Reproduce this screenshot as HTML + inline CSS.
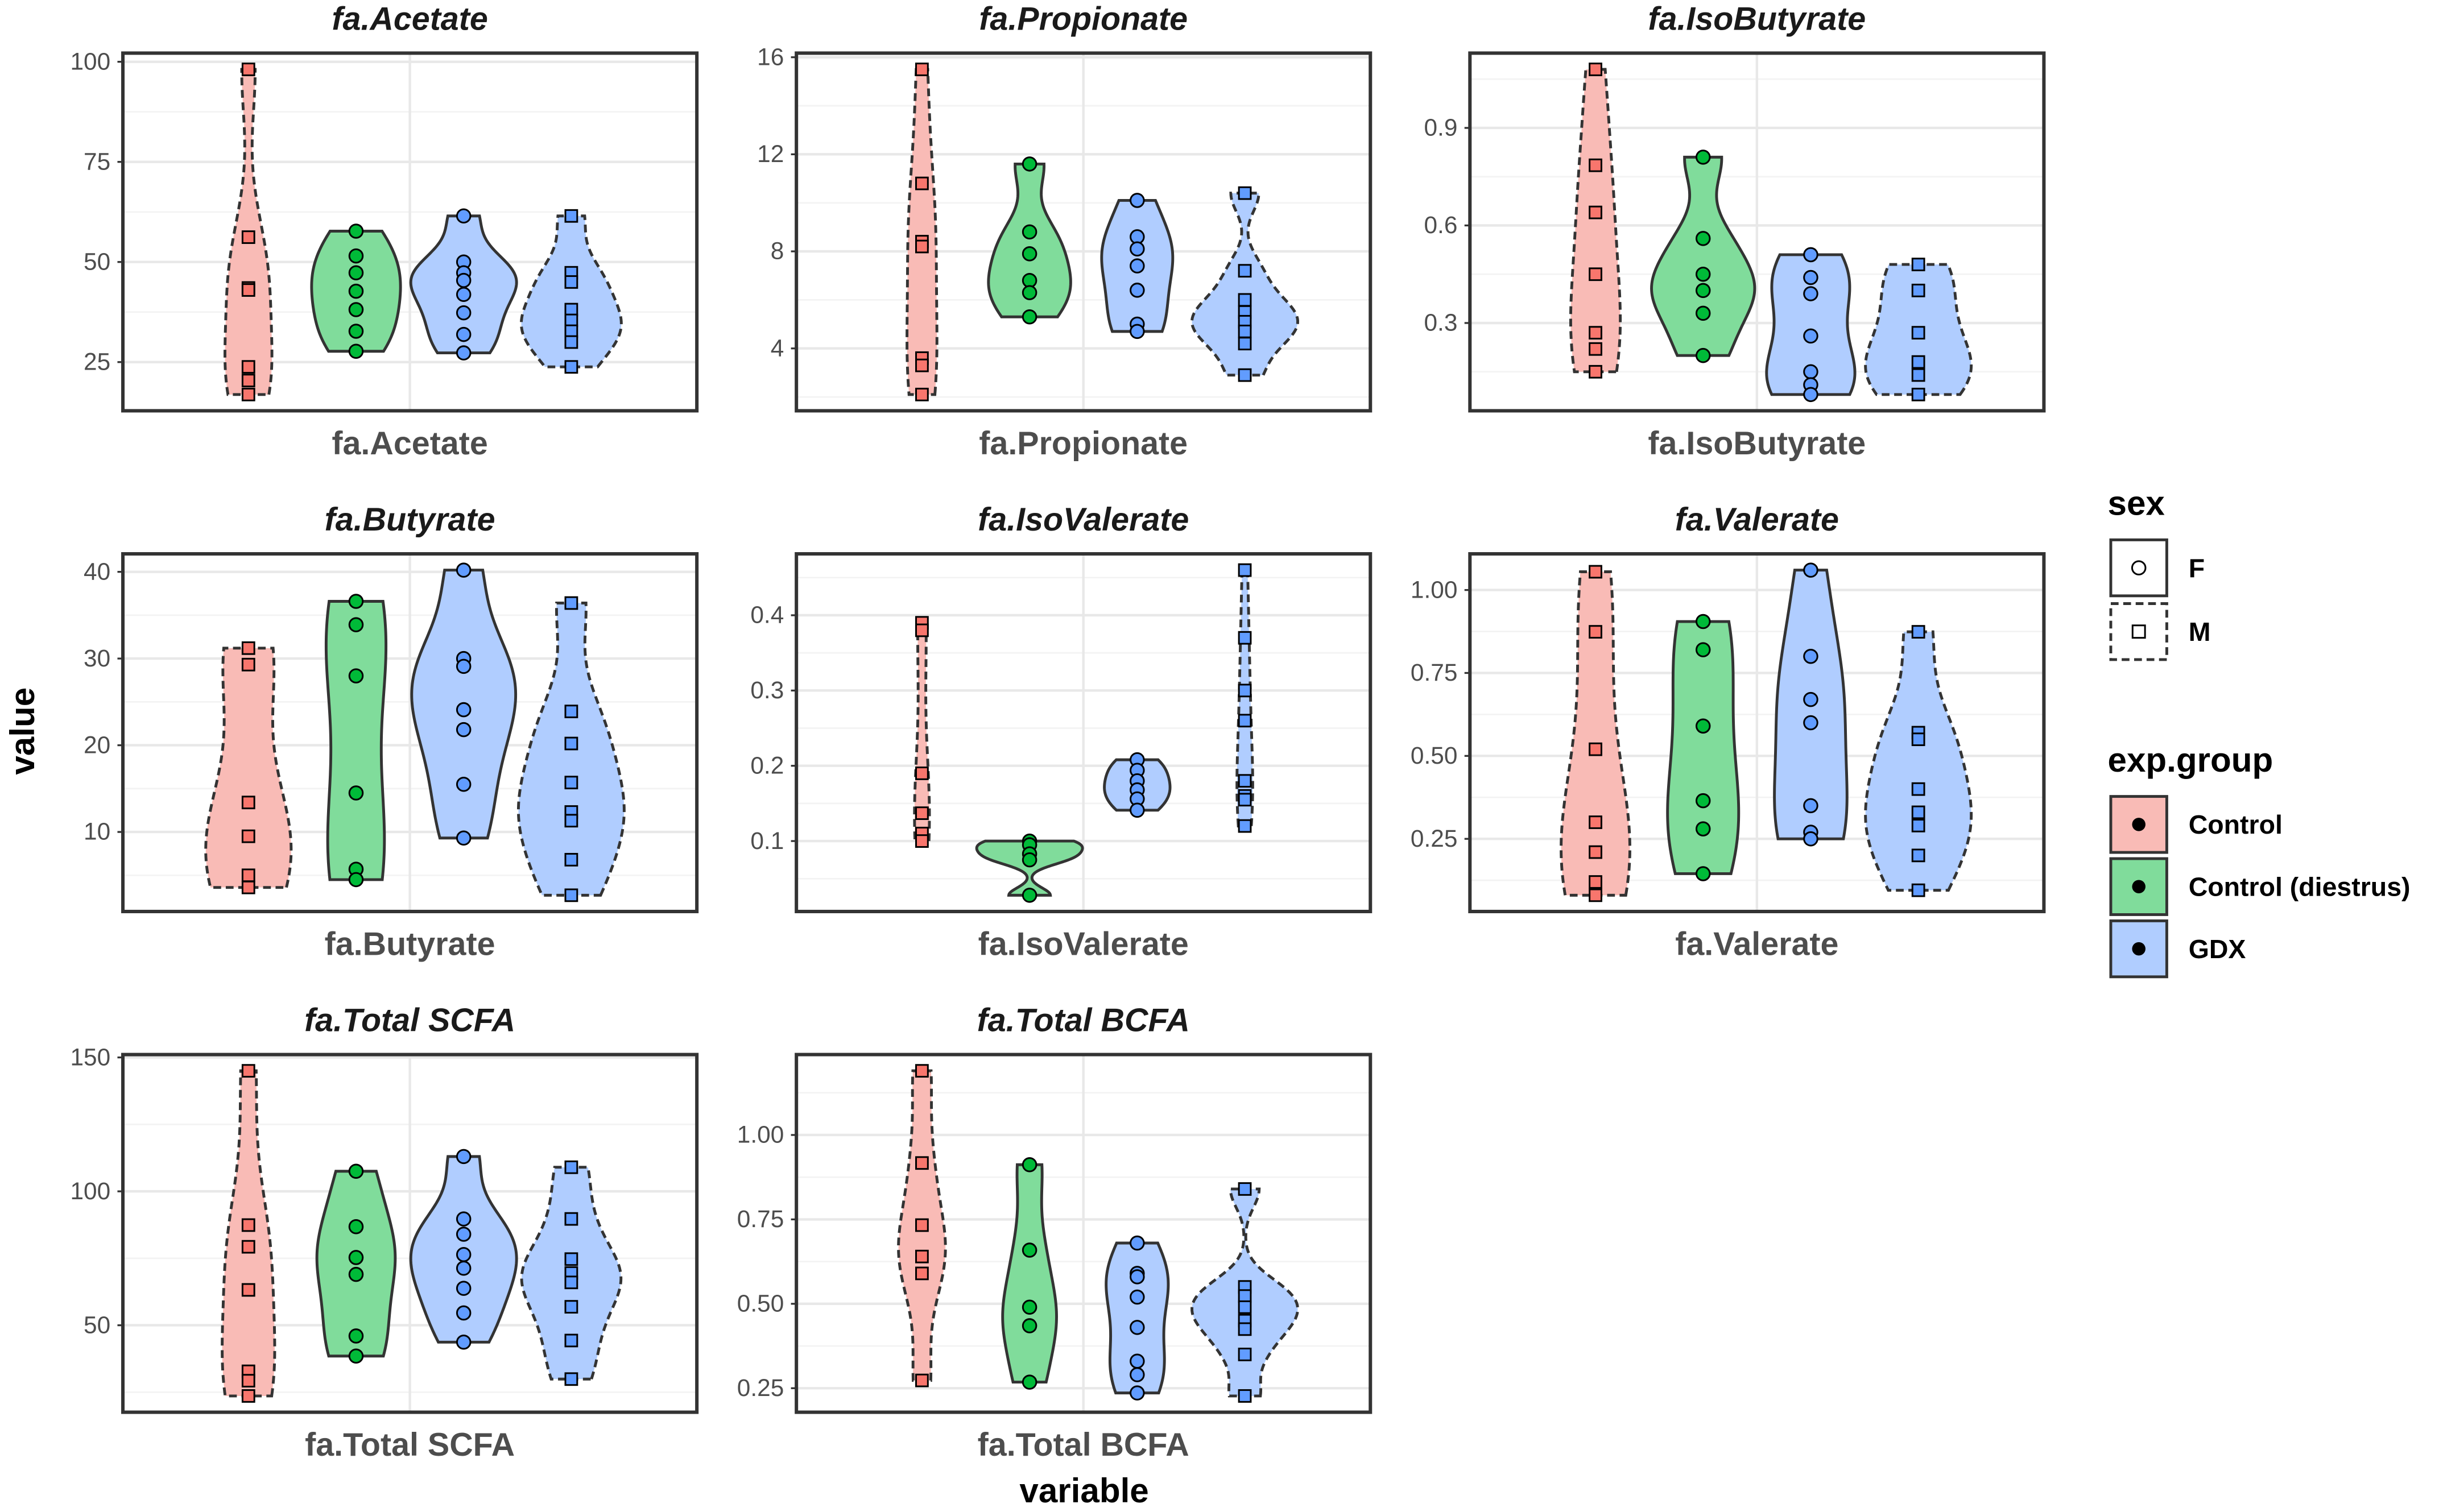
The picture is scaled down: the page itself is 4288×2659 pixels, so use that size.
<!DOCTYPE html>
<html><head><meta charset="utf-8">
<style>
html,body{margin:0;padding:0;background:#fff;}
svg{display:block;}
text{font-family:"Liberation Sans",Arial,sans-serif;}
</style></head>
<body>
<svg id="chart" width="4288" height="2659" viewBox="0 0 1568 972" xmlns="http://www.w3.org/2000/svg">
</svg>
<script>
// ---- data (groups: Control M, Control(diestrus) F, GDX F, GDX M) ----
const panelTitles = ["fa.Acetate","fa.Propionate","fa.IsoButyrate","fa.Butyrate","fa.IsoValerate","fa.Valerate","fa.Total SCFA","fa.Total BCFA"];
const groupNames = ["Control","Control (diestrus)","GDX","GDX"];
const groupSex = ["M","F","F","M"];
const acetate = [[98.1,56.2,43.5,43.0,23.8,20.4,16.9],[57.7,51.5,47.3,42.7,38.1,32.7,27.7],[61.5,50,47.3,45.4,41.9,37.3,31.9,27.3],[61.5,47.3,45,38.1,35.4,32.7,30,23.8]];
const propionate = [[15.5,10.8,8.4,8.2,3.6,3.3,2.1],[11.6,8.8,7.9,6.8,6.3,5.3],[10.1,8.6,8.1,7.4,6.4,5.0,4.7],[10.4,7.2,6.0,5.5,5.1,4.7,4.2,2.9]];
const isoButyrate = [[1.08,0.785,0.64,0.45,0.27,0.22,0.15],[0.81,0.56,0.45,0.40,0.33,0.20],[0.51,0.44,0.39,0.26,0.15,0.11,0.08],[0.48,0.40,0.27,0.18,0.14,0.08]];
const butyrate = [[31.2,29.3,13.4,9.5,5.0,3.6],[36.6,33.9,28,14.5,5.7,4.5],[40.2,30,29.1,24.1,21.8,15.5,9.3],[36.4,23.9,20.2,15.7,12.3,11.3,6.8,2.7]];
const isoValerate = [[0.39,0.38,0.19,0.137,0.11,0.10],[0.10,0.095,0.083,0.075,0.028],[0.208,0.194,0.18,0.168,0.156,0.141],[0.46,0.37,0.30,0.26,0.18,0.16,0.155,0.12]];
const valerate = [[1.055,0.874,0.52,0.30,0.21,0.12,0.08],[0.905,0.82,0.59,0.365,0.28,0.145],[1.06,0.80,0.67,0.60,0.35,0.27,0.25],[0.874,0.57,0.55,0.40,0.33,0.29,0.20,0.095]];
const totalSCFA = [[145,87.4,79.3,63.2,32.8,29.3,23.6],[107.5,86.8,75.3,69,46,38.5],[113,89.7,84,76.4,71.3,63.8,54.6,43.7],[109,89.7,74.7,69.5,66,56.9,44.3,29.9]];
const totalBCFA = [[1.19,0.917,0.733,0.64,0.59,0.273],[0.912,0.659,0.49,0.435,0.268],[0.68,0.59,0.58,0.52,0.43,0.33,0.29,0.236],[0.84,0.55,0.523,0.49,0.45,0.425,0.35,0.227]];
const ticks0 = [25,50,75,100];
const ticks1 = [4,8,12,16];
const ticks2 = [0.3,0.6,0.9];
const ticks3 = [10,20,30,40];
const ticks4 = [0.1,0.2,0.3,0.4];
const ticks5 = [0.25,0.5,0.75,1.0];
const ticks6 = [50,100,150];
const ticks7 = [0.25,0.5,0.75,1.0];
const tickLabels0 = ["25","50","75","100"];
const tickLabels1 = ["4","8","12","16"];
const tickLabels2 = ["0.3","0.6","0.9"];
const tickLabels3 = ["10","20","30","40"];
const tickLabels4 = ["0.1","0.2","0.3","0.4"];
const tickLabels5 = ["0.25","0.50","0.75","1.00"];
const tickLabels6 = ["50","100","150"];
const tickLabels7 = ["0.25","0.50","0.75","1.00"];

const allData=[acetate,propionate,isoButyrate,butyrate,isoValerate,valerate,totalSCFA,totalBCFA];
const allTicks=[ticks0,ticks1,ticks2,ticks3,ticks4,ticks5,ticks6,ticks7];
const allTickLabels=[tickLabels0,tickLabels1,tickLabels2,tickLabels3,tickLabels4,tickLabels5,tickLabels6,tickLabels7];
const fills=["#F9BBB6","#80DC9B","#B0CDFF"];
const pcols=["#F8766D","#00BA38","#619CFF"];
const NS="http://www.w3.org/2000/svg";
const svg=document.getElementById('chart');
function mk(tag,attrs,parent){const e=document.createElementNS(NS,tag);for(const k in attrs)e.setAttribute(k,attrs[k]);(parent||svg).appendChild(e);return e;}
function colIdx(g){return g===0?0:(g===1?1:2);}
function sd(a){const m=a.reduce((s,v)=>s+v,0)/a.length;return Math.sqrt(a.reduce((s,v)=>s+(v-m)*(v-m),0)/(a.length-1));}
function quant(a,p){const s=[...a].sort((x,y)=>x-y);const h=(s.length-1)*p;const lo=Math.floor(h);return s[lo]+(h-lo)*((s[lo+1]??s[lo])-s[lo]);}
function bw(a){const iqr=(quant(a,0.75)-quant(a,0.25))/1.34;let lo=Math.min(sd(a),iqr>0?iqr:sd(a));return 0.9*lo*Math.pow(a.length,-0.2);}
function kde(a,h,y){let s=0;for(const v of a){const z=(y-v)/h;s+=Math.exp(-0.5*z*z);}return s/(a.length*h*Math.sqrt(2*Math.PI));}

const colX=[79,512,945], rowY=[34,356,678], PW=369, PH=230;
allData.forEach((data,p)=>{
  const px=colX[p%3], py=rowY[Math.floor(p/3)];
  const g=mk('g',{});
  
  
  let mn=Infinity,mx=-Infinity;data.forEach(a=>a.forEach(v=>{mn=Math.min(mn,v);mx=Math.max(mx,v);}));
  const r=mx-mn; const d0=mn-0.05*r, d1=mx+0.05*r;
  const ys=v=>py+PH-(v-d0)/(d1-d0)*PH;
  const xs=i=>px+PW/2+(i-1.5)*PW*0.9/1.2/4;
  mk('rect',{x:px,y:py,width:PW,height:PH,fill:'#fff'},g);
  // minor grid
  const t=allTicks[p]; const step=t[1]-t[0];
  for(let v=t[0]-step/2; v<=d1; v+=step){ if(v>=d0) mk('line',{x1:px,x2:px+PW,y1:ys(v),y2:ys(v),stroke:'#f3f3f3','stroke-width':1},g); }
  t.forEach((v,i)=>{
    const gl=mk('line',{x1:px,x2:px+PW,y1:ys(v),y2:ys(v),stroke:'#e8e8e8','stroke-width':1.6},g);
    
    
    mk('line',{x1:px-3.5,x2:px,y1:ys(v),y2:ys(v),stroke:'#333','stroke-width':1.2},g);
    const tl=mk('text',{x:px-8,y:ys(v)+5,'text-anchor':'end','font-size':15.5,fill:'#4d4d4d'},g);
    tl.textContent=allTickLabels[p][i];
    
    
  });
  mk('line',{x1:px+PW/2,x2:px+PW/2,y1:py,y2:py+PH,stroke:'#e8e8e8','stroke-width':1.6},g);
  // violins
  const dens=data.map(a=>{const h=bw(a);const lo=Math.min(...a),hi=Math.max(...a);const pts=[];for(let k=0;k<=80;k++){const y=lo+(hi-lo)*k/80;pts.push([y,kde(a,h,y)]);}return pts;});
  let maxD=0;dens.forEach(ps=>ps.forEach(q=>maxD=Math.max(maxD,q[1])));
  const HW=34;
  data.forEach((a,i)=>{
    const cx=xs(i);const ps=dens[i];
    let dstr='';ps.forEach((q,k)=>{dstr+=(k?'L':'M')+(cx+q[1]/maxD*HW).toFixed(2)+','+ys(q[0]).toFixed(2);});
    for(let k=ps.length-1;k>=0;k--){const q=ps[k];dstr+='L'+(cx-q[1]/maxD*HW).toFixed(2)+','+ys(q[0]).toFixed(2);}
    dstr+='Z';
    const v=mk('path',{d:dstr,fill:fills[colIdx(i)],stroke:'#333','stroke-width':1.8,'stroke-dasharray':groupSex[i]==='M'?'5,3':'none'},g);
    
    
    a.forEach(val=>{
      let m;
      if(groupSex[i]==='M') m=mk('rect',{x:cx-3.8,y:ys(val)-3.8,width:7.6,height:7.6,fill:pcols[colIdx(i)],stroke:'#000','stroke-width':1.1},g);
      else m=mk('circle',{cx:cx,cy:ys(val),r:4.3,fill:pcols[colIdx(i)],stroke:'#000','stroke-width':1.1},g);
      
      
    });
  });
  mk('rect',{x:px,y:py,width:PW,height:PH,fill:'none',stroke:'#333','stroke-width':2.2},g);
  const tt=mk('text',{x:px+PW/2,y:py-15,'text-anchor':'middle','font-size':21,'font-weight':'bold','font-style':'italic',fill:'#1a1a1a'},g);
  tt.textContent=panelTitles[p];
  
  
  const xl=mk('text',{x:px+PW/2,y:py+PH+28,'text-anchor':'middle','font-size':21,'font-weight':'bold',fill:'#4d4d4d'},g);
  xl.textContent=panelTitles[p];
  
  
});
</script>
<script>
(function(){
const NS="http://www.w3.org/2000/svg";const svg=document.getElementById('chart');
function mk(tag,attrs){const e=document.createElementNS(NS,tag);for(const k in attrs)e.setAttribute(k,attrs[k]);svg.appendChild(e);return e;}
let e=mk('text',{x:0,y:0,transform:'translate(22,470) rotate(-90)','text-anchor':'middle','font-size':22,'font-weight':'bold',fill:'#000'});e.textContent='value';


e=mk('text',{x:697,y:966,'text-anchor':'middle','font-size':22,'font-weight':'bold',fill:'#000'});e.textContent='variable';


e=mk('text',{x:1355,y:331,'font-size':22,'font-weight':'bold',fill:'#000'});e.textContent='sex';


[['F',347,false],['M',388,true]].forEach(s=>{
  const b=mk('rect',{x:1357,y:s[1],width:36,height:36,fill:'#fff',stroke:'#333','stroke-width':1.8,'stroke-dasharray':s[2]?'5,3':'none'});
  
  
  if(s[2]) mk('rect',{x:1371,y:s[1]+14,width:8,height:8,fill:'#fff',stroke:'#000','stroke-width':1.1});
  else mk('circle',{cx:1375,cy:s[1]+18,r:4.3,fill:'#fff',stroke:'#000','stroke-width':1.1});
  const t=mk('text',{x:1407,y:s[1]+24,'font-size':17,'font-weight':'bold',fill:'#000'});t.textContent=s[0];
  
  
});
e=mk('text',{x:1355,y:496,'font-size':22,'font-weight':'bold',fill:'#000'});e.textContent='exp.group';


[['Control',512,'#F9BBB6'],['Control (diestrus)',552,'#80DC9B'],['GDX',592,'#B0CDFF']].forEach(s=>{
  const b=mk('rect',{x:1357,y:s[1],width:36,height:36,fill:s[2],stroke:'#333','stroke-width':1.8});
  
  
  mk('circle',{cx:1375,cy:s[1]+18,r:4.3,fill:'#000'});
  const t=mk('text',{x:1407,y:s[1]+24,'font-size':17,'font-weight':'bold',fill:'#000'});t.textContent=s[0];
  
  
});
})();
</script>
</body></html>
